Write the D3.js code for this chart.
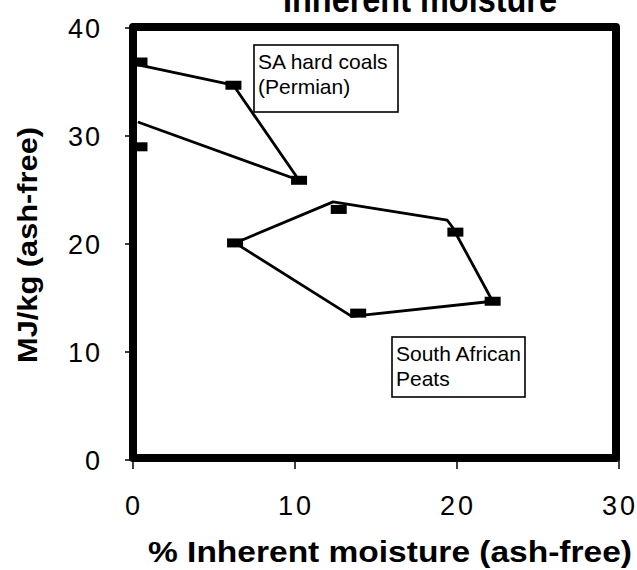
<!DOCTYPE html>
<html><head><meta charset="utf-8">
<script src="https://cdn.jsdelivr.net/npm/d3@7"></script>
<style>
html,body{margin:0;padding:0;background:#fff;}
text{font-family:Arial,"Liberation Sans",sans-serif;fill:#000;}
</style></head>
<body>
<svg id="chart" width="637" height="570"></svg>
<script>
// ---- data ----
const xTicks = [0, 10, 20, 30];
const yTicks = [0, 10, 20, 30, 40];
// SA hard coals (Permian): measured points
const coalX = [0.4, 6.2, 10.25, 0.4];
const coalY = [36.85, 34.7, 25.9, 29.0];
// hand-drawn envelope around the hard coals
const coalLineX = [0.25, 6.2, 10.25, 0.3];
const coalLineY = [36.6, 34.7, 25.9, 31.3];
// South African peats: measured points
const peatX = [6.3, 12.7, 19.9, 22.2, 13.9];
const peatY = [20.1, 23.2, 21.1, 14.7, 13.6];
// hand-drawn envelope around the peats
const peatLineX = [6.3, 12.35, 19.4, 19.7, 22.2, 13.5, 6.3];
const peatLineY = [20.1, 23.9, 22.2, 21.6, 14.7, 13.3, 20.1];
const title = "Inherent moisture";
const xTitle = "% Inherent moisture (ash-free)";
const yTitle = "MJ/kg (ash-free)";
const coalLabel = ["SA hard coals", "(Permian)"];
const peatLabel = ["South African", "Peats"];

// ---- chart ----
const svg = d3.select("#chart");
const x = d3.scaleLinear().domain([0, 30]).range([133, 619]);
const y = d3.scaleLinear().domain([0, 40]).range([460, 28]);

// title (cut off at top, as in the source)
svg.append("text").attr("x", 420).attr("y", 12).attr("text-anchor", "middle")
  .attr("font-size", 36).attr("font-weight", "bold")
  .attr("textLength", 274).attr("lengthAdjust", "spacingAndGlyphs").text(title);

// ticks
svg.append("g").selectAll("line").data(yTicks).join("line")
  .attr("x1", x(0) - 8).attr("x2", x(0)).attr("y1", d => y(d)).attr("y2", d => y(d))
  .attr("stroke", "#000").attr("stroke-width", 1.5);
svg.append("g").selectAll("line").data(xTicks).join("line")
  .attr("x1", d => x(d)).attr("x2", d => x(d)).attr("y1", y(0) - 4).attr("y2", y(0) + 9)
  .attr("stroke", "#000").attr("stroke-width", 1.5);

// frame
svg.append("rect")
  .attr("x", x(0)).attr("y", y(40) - 1)
  .attr("width", x(30) - x(0) - 3).attr("height", y(0) - y(40) - 1)
  .attr("fill", "none").attr("stroke", "#000").attr("stroke-width", 8)
  .attr("stroke-linejoin", "round");

// tick labels
svg.append("g").selectAll("text").data(yTicks).join("text")
  .attr("x", 102).attr("y", d => y(d)).attr("dy", "0.36em")
  .attr("text-anchor", "end").attr("font-size", 27).attr("letter-spacing", 2)
  .text(d => d);
svg.append("g").selectAll("text").data(xTicks).join("text")
  .attr("x", d => x(d) + 1).attr("y", 515)
  .attr("text-anchor", "middle").attr("font-size", 27).attr("letter-spacing", 3)
  .text(d => d);

// axis titles
svg.append("text").attr("x", 390).attr("y", 562).attr("text-anchor", "middle")
  .attr("font-size", 29).attr("font-weight", "bold")
  .attr("textLength", 484).attr("lengthAdjust", "spacingAndGlyphs").text(xTitle);
svg.append("text").attr("transform", "translate(37,245) rotate(-90)")
  .attr("text-anchor", "middle").attr("font-size", 28).attr("font-weight", "bold")
  .attr("textLength", 236).attr("lengthAdjust", "spacingAndGlyphs").text(yTitle);

// envelopes
const line = d3.line().x(d => x(d[0])).y(d => y(d[1]));
svg.append("path").datum(coalLineX.map((v, i) => [v, coalLineY[i]]))
  .attr("d", line).attr("fill", "none").attr("stroke", "#000").attr("stroke-width", 2.8)
  .attr("stroke-linejoin", "round");
svg.append("path").datum(peatLineX.map((v, i) => [v, peatLineY[i]]))
  .attr("d", line).attr("fill", "none").attr("stroke", "#000").attr("stroke-width", 2.8)
  .attr("stroke-linejoin", "round");

// markers
const pts = coalX.map((v, i) => [v, coalY[i]]).concat(peatX.map((v, i) => [v, peatY[i]]));
svg.append("g").selectAll("rect").data(pts).join("rect")
  .attr("x", d => x(d[0]) - 8).attr("y", d => y(d[1]) - 4.5)
  .attr("width", 16).attr("height", 9).attr("fill", "#000");

// label boxes
function labelBox(bx, by, bw, bh, lines) {
  svg.append("rect").attr("x", bx).attr("y", by).attr("width", bw).attr("height", bh)
    .attr("fill", "#fff").attr("stroke", "#000").attr("stroke-width", 1.6);
  lines.forEach((t, i) => {
    svg.append("text").attr("x", bx + 4).attr("y", by + 24 + i * 25)
      .attr("font-size", 21).text(t);
  });
}
labelBox(254, 45, 144, 67, coalLabel);
labelBox(392, 337, 133, 60, peatLabel);
</script>
</body></html>
